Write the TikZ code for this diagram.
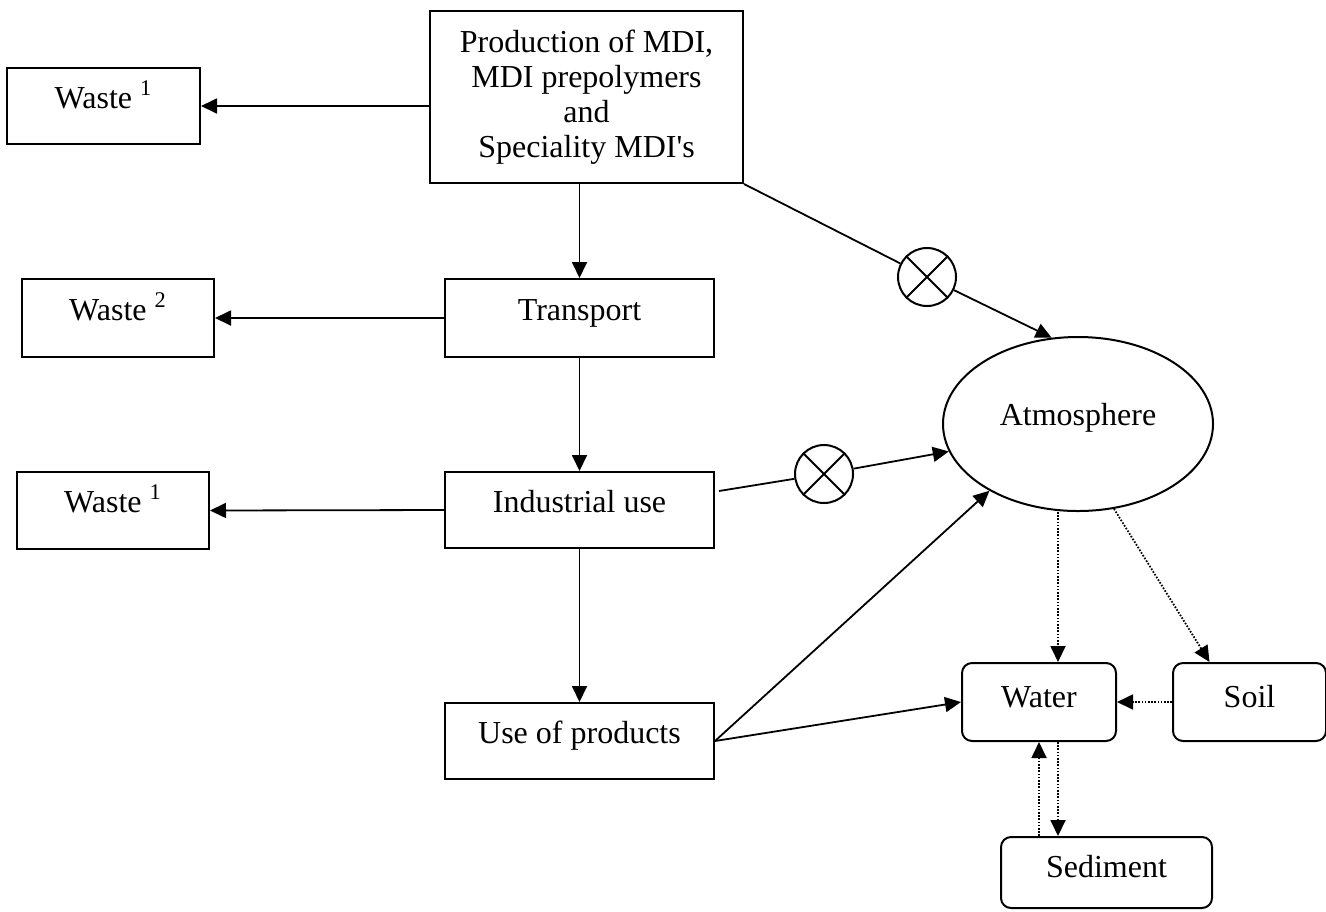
\documentclass[tikz,border=0pt]{standalone}
\usepackage{fontspec}
\setmainfont{Liberation Serif}
\usetikzlibrary{arrows.meta,shapes.geometric}

\begin{document}
\begin{tikzpicture}[x=0.5pt,y=-0.5pt,
			font=\fontsize{16}{17.5}\selectfont,
			>={Triangle[length=8pt,width=7.5pt]},
			procbox/.style={
				draw=black,
				line width=1pt,
				inner sep=0pt
			},
			onerow/.style={
				procbox,
				text height=11pt,
				text depth=9pt
			},
			medium/.style={
				onerow,
				rounded corners=5pt,
				text depth=6pt
			},
			xmark/.style={
				circle,
				draw=black,
				line width=1pt,
				inner sep=0pt,
				minimum size=29pt
			},
			flow/.style={->, line width=0.9pt},
			drift/.style={->, line width=0.9pt, dash pattern=on 0.8pt off 0.8pt}
			]
			\useasboundingbox (0,0) rectangle (1326,911);
			%---------------- CHAIN ----------------
			\node[procbox, align=center, minimum width=156.5pt, minimum height=86pt] (prod) at (586.5,97)
				{Production of MDI,\\MDI prepolymers\\and\\Speciality MDI\textquotesingle s};
			\node[onerow, minimum width=134.5pt, minimum height=39pt] (transport) at (579.5,318) {Transport};
			\node[onerow, minimum width=134.5pt, minimum height=38pt] (industrial) at (579.5,510) {Industrial use};
			\node[onerow, minimum width=134.5pt, minimum height=38pt] (useprod) at (579.5,741) {Use of products};
			%---------------- WASTE ----------------
			\node[onerow, minimum width=96.5pt, minimum height=38pt] (waste1a) at (103.5,106) {Waste \textsuperscript{1}};
			\node[onerow, minimum width=96pt, minimum height=39pt] (waste2) at (118,318) {Waste \textsuperscript{2}};
			\node[onerow, minimum width=96pt, minimum height=38.5pt] (waste1b) at (113,510.5) {Waste \textsuperscript{1}};
			%---------------- MEDIA ----------------
			\node[procbox, ellipse, minimum width=135pt, minimum height=87pt, text height=11pt, text depth=10pt] (atmos) at (1078,424) {Atmosphere};
			\node[medium, minimum width=77pt, minimum height=39pt] (water) at (1039,702) {Water};
			\node[medium, minimum width=76.5pt, minimum height=39pt] (soil) at (1249.5,702) {Soil};
			\node[medium, minimum width=105.5pt, minimum height=35.5pt] (sediment) at (1106.5,872.5) {Sediment};
			%---------------- EMISSION MARKS ----------------
			\node[xmark] (xa) at (927,277) {};
			\node[xmark] (xb) at (824,474) {};
			\draw[line width=1pt] (xa.north east) -- (xa.south west) (xa.north west) -- (xa.south east);
			\draw[line width=1pt] (xb.north east) -- (xb.south west) (xb.north west) -- (xb.south east);
			%---------------- ARROWS ----------------
			\draw[flow] (prod.west |- waste1a.east) -- (waste1a.east);
			\draw[flow] (transport.west) -- (waste2.east);
			\draw[flow] (industrial.west) -- (waste1b.east);
			\draw[flow] (prod.south -| transport.north) -- (transport.north);
			\draw[flow] (transport) -- (industrial);
			\draw[flow] (industrial) -- (useprod);
			\draw[line width=0.9pt] (prod.south east) -- (xa);
			\draw[flow] (xa) -- (atmos.107);
			\draw[line width=0.9pt] ([xshift=2pt,yshift=9.5pt]industrial.east) -- (xb);
			\draw[flow] (xb) -- (atmos.192);
			\draw[flow] (useprod.east) -- (atmos.217);
			\draw[flow] (useprod.east) -- (water.west);
			\draw[drift] (atmos.south -| 1058,0) -- ([xshift=9.5pt]water.north);
			\draw[drift] (atmos.293) -- ([xshift=-20pt]soil.north);
			\draw[drift] (soil.west) -- (water.east);
			\draw[drift] (water.south |- sediment.north) -- (water.south);
			\draw[drift] ([xshift=9.5pt]water.south) -- ([xshift=9.5pt]water.south |- sediment.north);
		\end{tikzpicture}
\end{document}
